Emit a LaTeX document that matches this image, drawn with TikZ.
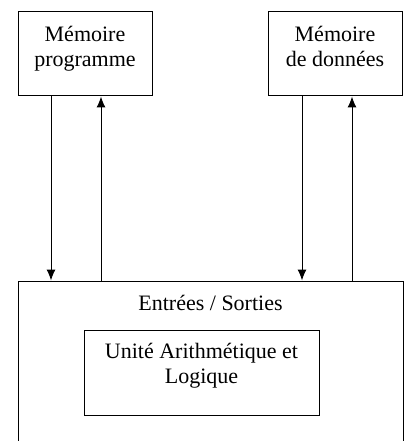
\documentclass[tikz,border=0pt]{standalone}
\usepackage{fontspec}
\setmainfont{Liberation Serif}
\usetikzlibrary{arrows.meta,positioning}

\begin{document}
\begin{tikzpicture}[
		x=1pt, y=-1pt,
		font=\fontsize{22}{25}\selectfont,
		arrow/.style={-{Latex[length=11pt,width=9pt]}},
		block/.style={draw, line width=1pt, inner sep=0pt},
		lbl/.style={anchor=north, align=center, inner sep=0pt, yshift=-12pt},
	]
		\useasboundingbox (0,0) rectangle (406,441);
		\clip (0,0) rectangle (406,441);

		\node (mp) [block, minimum width=134pt, minimum height=84pt,
			label={[lbl, yshift=-3pt]north:Mémoire\\programme}] at (85,54) {};
		\node (md) [block, minimum width=134pt, minimum height=84pt,
			label={[lbl, yshift=-3pt]north:Mémoire\\de données}] at (335,54) {};
		\node (es) [block, minimum width=385pt, minimum height=180pt,
			label={[lbl, yshift=-2pt]north:Entrées / Sorties}] at (210.5,371) {};
		\node (ual) [block, minimum width=235pt, minimum height=85pt,
			label={[lbl, yshift=-1pt]north:Unité Arithmétique et\\Logique}] at (201.5,372.5) {};

		% liaisons memoires <-> E/S
		\path ([xshift=-34pt]mp.south) coordinate (mpout);
		\path ([xshift=16pt]mp.south) coordinate (mpin);
		\path ([xshift=-33pt]md.south) coordinate (mdout);
		\path ([xshift=17pt]md.south) coordinate (mdin);

		\draw[arrow, line width=1pt] (mpout) -- (mpout |- es.north);
		\draw[arrow, line width=1pt] (mpin |- es.north) -- (mpin);
		\draw[arrow, line width=1pt] (mdout) -- (mdout |- es.north);
		\draw[arrow, line width=1pt] (mdin |- es.north) -- (mdin);
	\end{tikzpicture}
\end{document}
